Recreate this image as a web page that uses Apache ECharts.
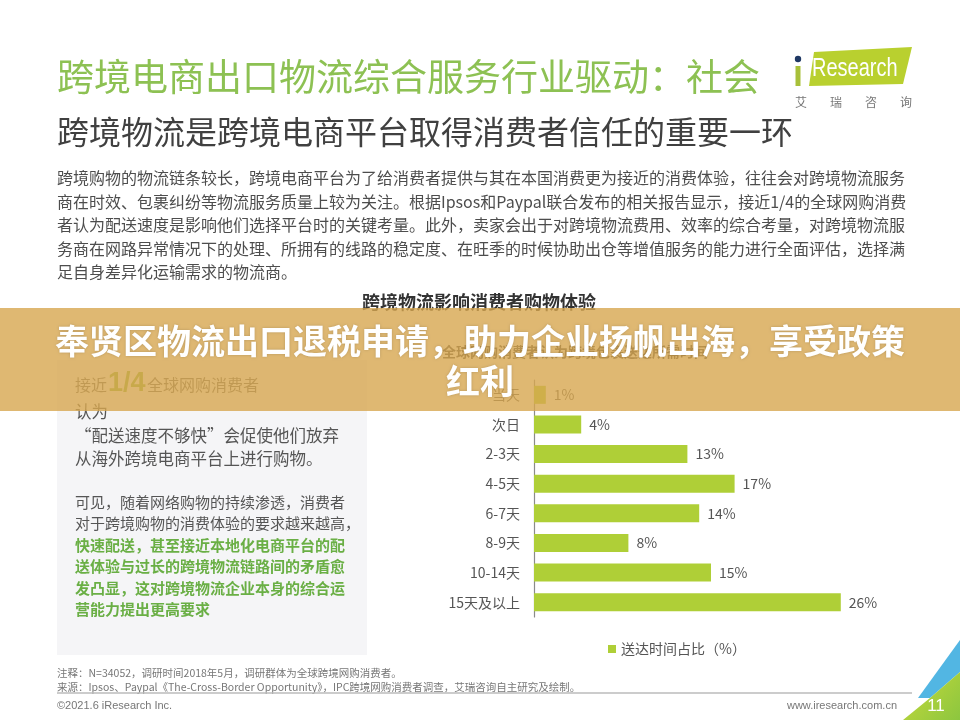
<!DOCTYPE html>
<html><head><meta charset="utf-8">
<script src="https://cdn.jsdelivr.net/npm/echarts@6/dist/echarts.min.js"></script>
<style>html,body{margin:0;padding:0;background:#fff}#c{width:960px;height:720px}</style>
</head><body><div id="c"></div>
<script>
// ---- data ----
const categories = ['当天','次日','2-3天','4-5天','6-7天','8-9天','10-14天','15天及以上'];
const shareValues = [1,4,13,17,14,8,15,26];
const seriesName = '送达时间占比（%）';

const pageTitle = '跨境电商出口物流综合服务行业驱动：社会';
const pageSubtitle = '跨境物流是跨境电商平台取得消费者信任的重要一环';
const paragraphLines = [
  '跨境购物的物流链条较长，跨境电商平台为了给消费者提供与其在本国消费更为接近的消费体验，往往会对跨境物流服务',
  '商在时效、包裹纠纷等物流服务质量上较为关注。根据Ipsos和Paypal联合发布的相关报告显示，接近1/4的全球网购消费',
  '者认为配送速度是影响他们选择平台时的关键考量。此外，卖家会出于对跨境物流费用、效率的综合考量，对跨境物流服',
  '务商在网路异常情况下的处理、所拥有的线路的稳定度、在旺季的时候协助出仓等增值服务的能力进行全面评估，选择满',
  '足自身差异化运输需求的物流商。'
];
const chartTitle = '跨境物流影响消费者购物体验';
const chartSubtitle = '全球网购消费者认为跨境包裹送达所需时间';
const boxLinesA = ['认为', '“配送速度不够快”会促使他们放弃', '从海外跨境电商平台上进行购物。'];
const boxLinesB = ['可见，随着网络购物的持续渗透，消费者', '对于跨境购物的消费体验的要求越来越高，'];
const boxLinesGreen = ['快速配送，甚至接近本地化电商平台的配', '送体验与过长的跨境物流链路间的矛盾愈', '发凸显，这对跨境物流企业本身的综合运', '营能力提出更高要求'];
const noteLines = [
  '注释：N=34052，调研时间2018年5月，调研群体为全球跨境网购消费者。',
  '来源：Ipsos、Paypal《The-Cross-Border Opportunity》，IPC跨境网购消费者调查，艾瑞咨询自主研究及绘制。'
];
const bannerLines = ['奉贤区物流出口退税申请，助力企业扬帆出海，享受政策', '红利'];
const logoChars = ['艾','瑞','咨','询'];

// ---- chart ----
const FF = '"Noto Sans CJK SC", "Noto Sans", sans-serif';
const chart = echarts.init(document.getElementById('c'));

function txt(text, x, y, size, fill, opts) {
  return Object.assign({
    type: 'text', z: 10,
    style: Object.assign({
      text: text, x: x, y: y, fill: fill,
      fontSize: size, fontFamily: FF,
      textAlign: 'left', textVerticalAlign: 'middle'
    }, (opts && opts.style) || {})
  }, (opts && opts.el) || {});
}

const els = [];
// left gray box
els.push({type:'rect', z:1, shape:{x:57,y:360,width:310,height:295}, style:{fill:'#F5F5F7'}});
// page titles
els.push(txt(pageTitle, 57, 77, 37, '#8DC153'));
els.push(txt(pageSubtitle, 57, 132, 32, '#404040'));
paragraphLines.forEach((l,i)=>els.push(txt(l, 57, 178 + i*23.5, 16, '#4D4D4D')));
// logo
els.push({type:'polygon', z:10, shape:{points:[[814,52],[912,47],[903,84],[809,86]]}, style:{fill:'#B9D02F'}});
els.push({type:'rect', z:10, shape:{x:795.5,y:66,width:5,height:20}, style:{fill:'#A8C03A'}});
els.push({type:'circle', z:10, shape:{cx:798,cy:59,r:3.2}, style:{fill:'#1F3864'}});
els.push(txt('Research', 0, 0, 25, '#FFFFFF', {el:{x:812, y:69, scaleX:0.8}, style:{fontFamily:'"Liberation Sans", Arial, sans-serif'}}));
logoChars.forEach((c,i)=>els.push(txt(c, 801 + i*35, 102, 12, '#777', {style:{textAlign:'center'}})));
// chart titles
els.push(txt(chartTitle, 479, 302, 18, '#333', {style:{textAlign:'center', fontWeight:'bold'}}));
els.push(txt(chartSubtitle, 575, 352, 14, '#444', {style:{textAlign:'center', fontWeight:'bold'}}));
// left box text
els.push(txt('接近', 75, 385, 16, '#666'));
els.push(txt('1/4', 108, 384, 27, '#8DB43C', {style:{fontWeight:'bold', fontFamily:'"Liberation Sans", Arial, sans-serif'}}));
els.push(txt('全球网购消费者', 147, 385, 16, '#666'));
boxLinesA.forEach((l,i)=>els.push(txt(l, 75, 412 + i*23.5, 16.5, '#555')));
boxLinesB.forEach((l,i)=>els.push(txt(l, 75, 502 + i*21.5, 15, '#555')));
boxLinesGreen.forEach((l,i)=>els.push(txt(l, 75, 545 + i*21.5, 15, '#6AAF45', {style:{fontWeight:'bold'}})));
// footer
noteLines.forEach((l,i)=>els.push(txt(l, 57, 673 + i*14.5, 10.5, '#777')));
els.push({type:'line', z:10, shape:{x1:57,y1:693,x2:912,y2:693}, style:{stroke:'#BBBBBB', lineWidth:1.5}});
els.push(txt('©2021.6 iResearch Inc.', 57, 706, 11, '#777', {style:{fontFamily:'"Liberation Sans", Arial, sans-serif'}}));
els.push(txt('www.iresearch.com.cn', 897, 706, 11, '#777', {style:{textAlign:'right', fontFamily:'"Liberation Sans", Arial, sans-serif'}}));
// corner decoration
els.push({type:'polygon', z:10, shape:{points:[[960,640],[960,672],[930,698],[918,698]]}, style:{fill:'#52B6E3'}});
els.push({type:'polygon', z:10, shape:{points:[[960,672],[960,720],[903,720],[930,698]]},
  style:{fill:new echarts.graphic.LinearGradient(0,0,1,1,[{offset:0,color:'#C8DA3A'},{offset:1,color:'#8CC63F'}])}});
els.push(txt('11', 936, 706, 17, '#FFFFFF', {style:{textAlign:'center', fontFamily:'"Liberation Sans", Arial, sans-serif'}}));
// banner overlay
els.push({type:'rect', z:100, shape:{x:0,y:308,width:960,height:103}, style:{fill:'rgba(215,166,79,0.8)'}});
els.push(txt(bannerLines[0], 480, 341, 34, '#FFFFFF', {el:{z:101}, style:{textAlign:'center', fontWeight:'bold', textShadowBlur:3, textShadowColor:'rgba(0,0,0,0.18)'}}));
els.push(txt(bannerLines[1], 480, 381, 34, '#FFFFFF', {el:{z:101}, style:{textAlign:'center', fontWeight:'bold', textShadowBlur:3, textShadowColor:'rgba(0,0,0,0.18)'}}));

chart.setOption({
  backgroundColor: '#FFFFFF',
  animation: false,
  textStyle: {fontFamily: FF},
  grid: {left: 534, top: 380, width: 354, height: 237, containLabel: false},
  legend: {
    left: 603, top: 637, icon: 'rect', itemWidth: 8, itemHeight: 8, itemGap: 4,
    textStyle: {fontSize: 14, color: '#555', fontFamily: FF},
    data: [seriesName]
  },
  xAxis: {type: 'value', min: 0, max: 30, show: false},
  yAxis: {
    type: 'category', data: categories, inverse: true,
    axisLine: {show: true, lineStyle: {color: '#8A8A8A', width: 1.2}},
    axisTick: {show: false},
    axisLabel: {fontSize: 14, color: '#555', margin: 14, fontFamily: FF}
  },
  series: [{
    name: seriesName, type: 'bar', data: shareValues, barWidth: 18, z: 2,
    itemStyle: {color: '#AFCF37'},
    label: {show: true, position: 'right', distance: 8, formatter: '{c}%', fontSize: 14, color: '#555', fontFamily: FF}
  }],
  graphic: {elements: els}
});
</script></body></html>
